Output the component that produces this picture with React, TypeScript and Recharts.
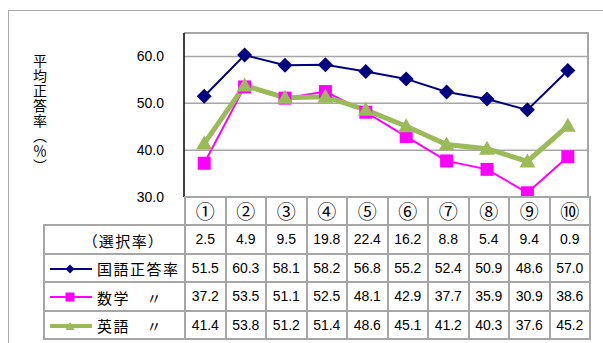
import { CartesianGrid, Line, LineChart, XAxis, YAxis } from 'recharts';

const categories = ['①', '②', '③', '④', '⑤', '⑥', '⑦', '⑧', '⑨', '⑩'];
const selectRate = [2.5, 4.9, 9.5, 19.8, 22.4, 16.2, 8.8, 5.4, 9.4, 0.9];
const kokugo = [51.5, 60.3, 58.1, 58.2, 56.8, 55.2, 52.4, 50.9, 48.6, 57.0];
const sugaku = [37.2, 53.5, 51.1, 52.5, 48.1, 42.9, 37.7, 35.9, 30.9, 38.6];
const eigo = [41.4, 53.8, 51.2, 51.4, 48.6, 45.1, 41.2, 40.3, 37.6, 45.2];
const yTicks = [30, 40, 50, 60];

const NAVY = '#000080';
const MAGENTA = '#FF00FF';
const GREEN = '#9BBB59';
const GRID = '#a6a6a6';
const FONT = '"Liberation Sans", "Noto Sans CJK JP", sans-serif';

const data = categories.map((c, i) => ({
  cat: c,
  kokugo: kokugo[i],
  sugaku: sugaku[i],
  eigo: eigo[i],
}));

const diamond = (cx: number, cy: number, r: number) =>
  `M${cx},${cy - r}L${cx + r},${cy}L${cx},${cy + r}L${cx - r},${cy}Z`;
const square = (cx: number, cy: number, h: number) =>
  `M${cx - h},${cy - h}L${cx + h},${cy - h}L${cx + h},${cy + h}L${cx - h},${cy + h}Z`;
const triangle = (cx: number, cy: number, w: number) =>
  `M${cx},${cy - w}L${cx + w},${cy + w * 0.75}L${cx - w},${cy + w * 0.75}Z`;

const DiamondDot = (p: any) => <path key={`d${p.index}`} d={diamond(p.cx, p.cy, 7.5)} fill={NAVY} />;
const SquareDot = (p: any) => <path key={`s${p.index}`} d={square(p.cx, p.cy, 6.5)} fill={MAGENTA} />;
const TriangleDot = (p: any) => <path key={`t${p.index}`} d={triangle(p.cx, p.cy, 8)} fill={GREEN} />;

function LegendIcon({ kind }: { kind: 'd' | 's' | 't' }) {
  const color = kind === 'd' ? NAVY : kind === 's' ? MAGENTA : GREEN;
  return (
    <svg width={44} height={14} style={{ verticalAlign: 'middle', marginRight: 4 }}>
      <line x1={1} y1={7} x2={43} y2={7} stroke={color} strokeWidth={kind === 't' ? 4 : 2} />
      {kind === 'd' && <path d={diamond(21, 7, 4.5)} fill={color} />}
      {kind === 's' && <path d={square(21, 7, 4.5)} fill={color} />}
      {kind === 't' && <path d={triangle(21, 7.5, 4.5)} fill={color} />}
    </svg>
  );
}

const cell: React.CSSProperties = {
  border: `2px solid ${GRID}`,
  textAlign: 'center',
  padding: 0,
  fontSize: 14,
};

const rows = [
  { label: '（選択率）', icon: null, values: selectRate },
  { label: '国語正答率', icon: 'd', values: kokugo },
  { label: '数学　〃', icon: 's', values: sugaku },
  { label: '英語　〃', icon: 't', values: eigo },
] as const;

export default function App() {
  return (
    <div
      style={{
        position: 'absolute',
        left: 0,
        top: 0,
        width: 603,
        height: 343,
        background: '#fff',
        overflow: 'hidden',
        fontFamily: FONT,
        color: '#000',
      }}
    >
      <div
        style={{
          position: 'absolute',
          left: 8,
          top: 10,
          width: 620,
          height: 360,
          borderTop: '1.5px solid #aaa',
          borderLeft: '1.5px solid #aaa',
        }}
      />
      <div
        style={{
          position: 'absolute',
          left: 30,
          top: 54,
          writingMode: 'vertical-rl',
          fontSize: 14,
          letterSpacing: 1,
          fontFamily: '"Noto Sans CJK JP", sans-serif',
        }}
      >
        平均正答率（％）
      </div>
      <div
        style={{
          position: 'absolute',
          left: 184,
          top: 32,
          width: 405,
          height: 166,
          boxSizing: 'border-box',
          borderTop: `2px solid ${GRID}`,
          borderRight: `2px solid ${GRID}`,
        }}
      />
      <div style={{ position: 'absolute', left: 0, top: 0 }}>
        <LineChart
          width={600}
          height={343}
          data={data}
          margin={{ top: 33, right: 12, left: 0, bottom: 146 }}
        >
          <CartesianGrid vertical={false} stroke={GRID} strokeWidth={1.5} />
          <XAxis dataKey="cat" hide padding={{ left: 20.2, right: 20.2 }} />
          <YAxis
            width={184}
            domain={[30, 65]}
            ticks={yTicks}
            allowDataOverflow
            tickLine={false}
            tickMargin={14}
            axisLine={{ stroke: '#000', strokeWidth: 1.5 }}
            tickFormatter={(v: number) => v.toFixed(1)}
            tick={{ fill: '#000', fontSize: 14, fontFamily: FONT }}
          />
          <Line
            dataKey="kokugo"
            stroke={NAVY}
            strokeWidth={2}
            dot={DiamondDot}
            activeDot={false}
            isAnimationActive={false}
          />
          <Line
            dataKey="sugaku"
            stroke={MAGENTA}
            strokeWidth={2}
            dot={SquareDot}
            activeDot={false}
            isAnimationActive={false}
          />
          <Line
            dataKey="eigo"
            stroke={GREEN}
            strokeWidth={5}
            dot={TriangleDot}
            activeDot={false}
            isAnimationActive={false}
          />
        </LineChart>
      </div>
      <table
        style={{
          position: 'absolute',
          left: 43,
          top: 196,
          width: 546,
          borderCollapse: 'collapse',
          tableLayout: 'fixed',
        }}
      >
        <colgroup>
          <col style={{ width: 141 }} />
          {categories.map((c) => (
            <col key={c} style={{ width: 40.5 }} />
          ))}
        </colgroup>
        <tbody>
          <tr style={{ height: 28 }}>
            <td style={{ border: 'none', borderBottom: `2px solid ${GRID}`, padding: 0 }} />
            {categories.map((c) => (
              <td
                key={c}
                style={{
                  ...cell,
                  fontSize: 19,
                  lineHeight: '20px',
                  fontFamily: '"Noto Sans CJK JP", sans-serif',
                }}
              >
                {c}
              </td>
            ))}
          </tr>
          {rows.map((r) => (
            <tr key={r.label} style={{ height: 28.5 }}>
              <td
                style={{
                  ...cell,
                  textAlign: r.icon ? 'left' : 'center',
                  paddingLeft: r.icon ? 4 : 18,
                  fontSize: 15,
                  letterSpacing: 1.5,
                  whiteSpace: 'nowrap',
                  fontFamily: '"Noto Sans CJK JP", sans-serif',
                  fontFeatureSettings: r.icon ? undefined : '"palt"',
                }}
              >
                {r.icon && <LegendIcon kind={r.icon} />}
                <span style={{ verticalAlign: 'middle' }}>{r.label}</span>
              </td>
              {r.values.map((v, i) => (
                <td key={i} style={cell}>
                  {v.toFixed(1)}
                </td>
              ))}
            </tr>
          ))}
        </tbody>
      </table>
    </div>
  );
}
